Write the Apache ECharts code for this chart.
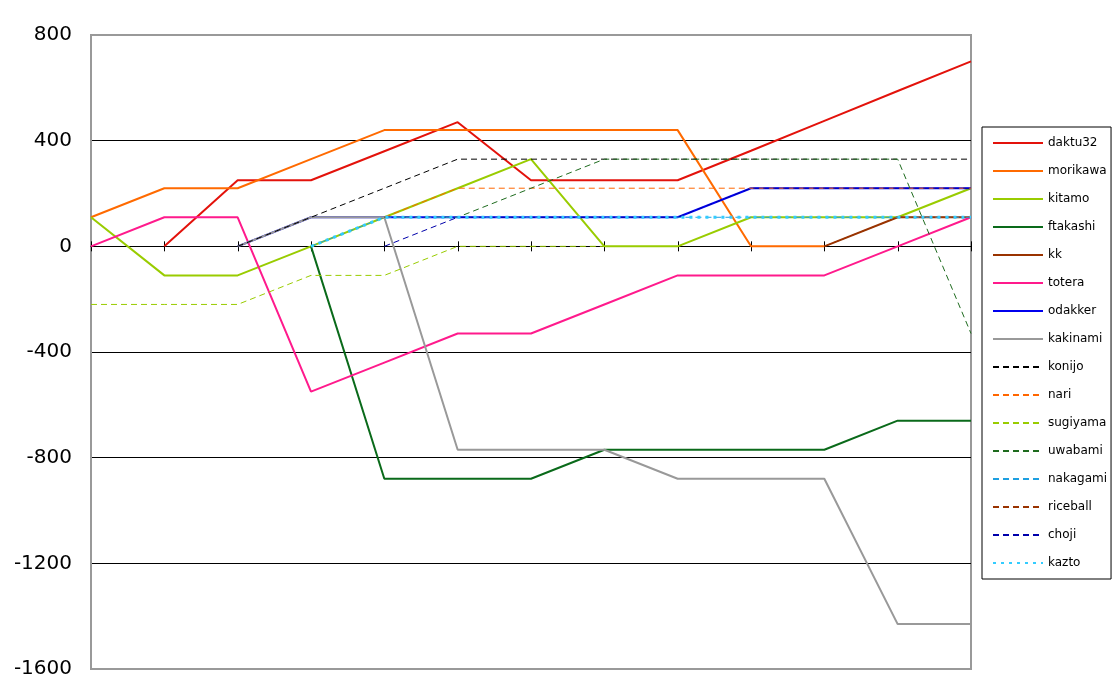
<!DOCTYPE html>
<html>
<head>
<meta charset="utf-8">
<script src="https://cdn.jsdelivr.net/npm/echarts@6/dist/echarts.min.js"></script>
<style>html,body{margin:0;padding:0;background:#fff}#c{width:1120px;height:700px}</style>
</head>
<body>
<div id="c"></div>
<script>
const categories = ['1','2','3','4','5','6','7','8','9','10','11','12','13'];
const yTicks = [-1600, -1200, -800, -400, 0, 400, 800];
const _ = null;
const daktu32  = [_, 0, 250, 250, 360, 470, 250, 250, 250, 362, 475, 588, 700];
const morikawa = [110, 220, 220, 330, 440, 440, 440, 440, 440, 0, 0, _, _];
const kitamo   = [110, -110, -110, 0, 110, 220, 330, 0, 0, 110, 110, 110, 220];
const ftakashi = [_, _, _, 0, -880, -880, -880, -770, -770, -770, -770, -660, -660];
const kk       = [_, _, _, _, _, _, _, _, _, _, 0, 110, 110];
const totera   = [0, 110, 110, -550, -440, -330, -330, -220, -110, -110, -110, 0, 110];
const odakker  = [_, _, 0, 110, 110, 110, 110, 110, 110, 220, 220, 220, 220];
const kakinami = [_, _, 0, 110, 110, -770, -770, -770, -880, -880, -880, -1430, -1430];
const konijo   = [_, _, 0, 110, 220, 330, 330, 330, 330, 330, 330, 330, 330];
const nari     = [_, _, _, _, 110, 220, 220, 220, 220, 220, 220, 220, 220];
const sugiyama = [-220, -220, -220, -110, -110, 0, 0, 0, _, _, _, _, _];
const uwabami  = [_, _, _, _, 110, 110, 220, 330, 330, 330, 330, 330, -330];
const nakagami = [_, _, _, 0, 110, 110, 110, 110, 110, 110, 110, 110, 110];
const riceball = [_, _, _, _, _, _, _, _, _, _, 0, 110, 110];
const choji    = [_, _, _, _, 0, 110, 110, 110, 110, 220, 220, 220, 220];
const kazto    = [_, _, _, 0, 110, 110, 110, 110, 110, 110, 110, 110, 110];

const seriesDefs = [
  ['daktu32', daktu32, '#E3120B', 'solid', 2],
  ['morikawa', morikawa, '#FF6A00', 'solid', 2],
  ['kitamo', kitamo, '#99CC00', 'solid', 2],
  ['ftakashi', ftakashi, '#0A6A1A', 'solid', 2],
  ['kk', kk, '#993300', 'solid', 2],
  ['totera', totera, '#FF1A8C', 'solid', 2],
  ['odakker', odakker, '#0000EE', 'solid', 2],
  ['kakinami', kakinami, '#999999', 'solid', 2],
  ['konijo', konijo, '#000000', [6,4], 1],
  ['nari', nari, '#FF6600', [6,4], 1],
  ['sugiyama', sugiyama, '#99CC00', [6,4], 1],
  ['uwabami', uwabami, '#1E6B1E', [6,4], 1],
  ['nakagami', nakagami, '#1E9FE0', [6,4], 1],
  ['riceball', riceball, '#993300', [6,4], 1],
  ['choji', choji, '#0000AA', [6,4], 1],
  ['kazto', kazto, '#33CCFF', [3,5], 3]
];

const chart = echarts.init(document.getElementById('c'), null, {renderer: 'canvas'});
const series = seriesDefs.map(d => ({
  name: d[0], type: 'line', data: d[1],
  symbol: 'none', showSymbol: false,
  itemStyle: {color: d[2]},
  lineStyle: {color: d[2], type: d[3], width: d[4]},
  emphasis: {disabled: true}
}));
// tick marks crossing the zero axis at each category
series.unshift({
  type: 'custom', silent: true, z: 3,
  data: categories.map((c, i) => [i, 0]),
  renderItem: function (params, api) {
    const p = api.coord([api.value(0), api.value(1)]);
    return {type: 'line', shape: {x1: Math.round(p[0]) + 0.5, y1: p[1] - 5, x2: Math.round(p[0]) + 0.5, y2: p[1] + 5},
            style: {stroke: '#000', lineWidth: 1}};
  }
});
chart.setOption({
  animation: false,
  backgroundColor: '#fff',
  grid: {left: 91, right: 149, top: 35, bottom: 31, show: true, borderColor: '#999', borderWidth: 2},
  legend: {
    orient: 'vertical', left: 982, top: 127,
    padding: [9, 4, 9, 10],
    borderColor: '#000', borderWidth: 1,
    itemWidth: 50, itemHeight: 14, itemGap: 14,
    itemStyle: {opacity: 0},
    textStyle: {fontFamily: 'DejaVu Sans', fontSize: 12, color: '#000', lineHeight: 14},
    data: seriesDefs.map(d => d[0])
  },
  xAxis: {
    type: 'category', data: categories, boundaryGap: false,
    axisLine: {onZero: true, lineStyle: {color: '#000', width: 1}},
    axisTick: {show: false},
    axisLabel: {show: false}, splitLine: {show: false}
  },
  yAxis: {
    type: 'value', min: yTicks[0], max: yTicks[yTicks.length-1], interval: 400,
    axisLine: {show: true, lineStyle: {color: '#999', width: 2}},
    axisTick: {show: false},
    axisLabel: {fontFamily: 'DejaVu Sans', fontSize: 20, color: '#000', margin: 19,
                formatter: v => String(v)},
    splitLine: {show: true, lineStyle: {color: ['#999','#000','#000','#000','#000','#000','#999'], width: 1}}
  },
  series: series
});
</script>
</body>
</html>
